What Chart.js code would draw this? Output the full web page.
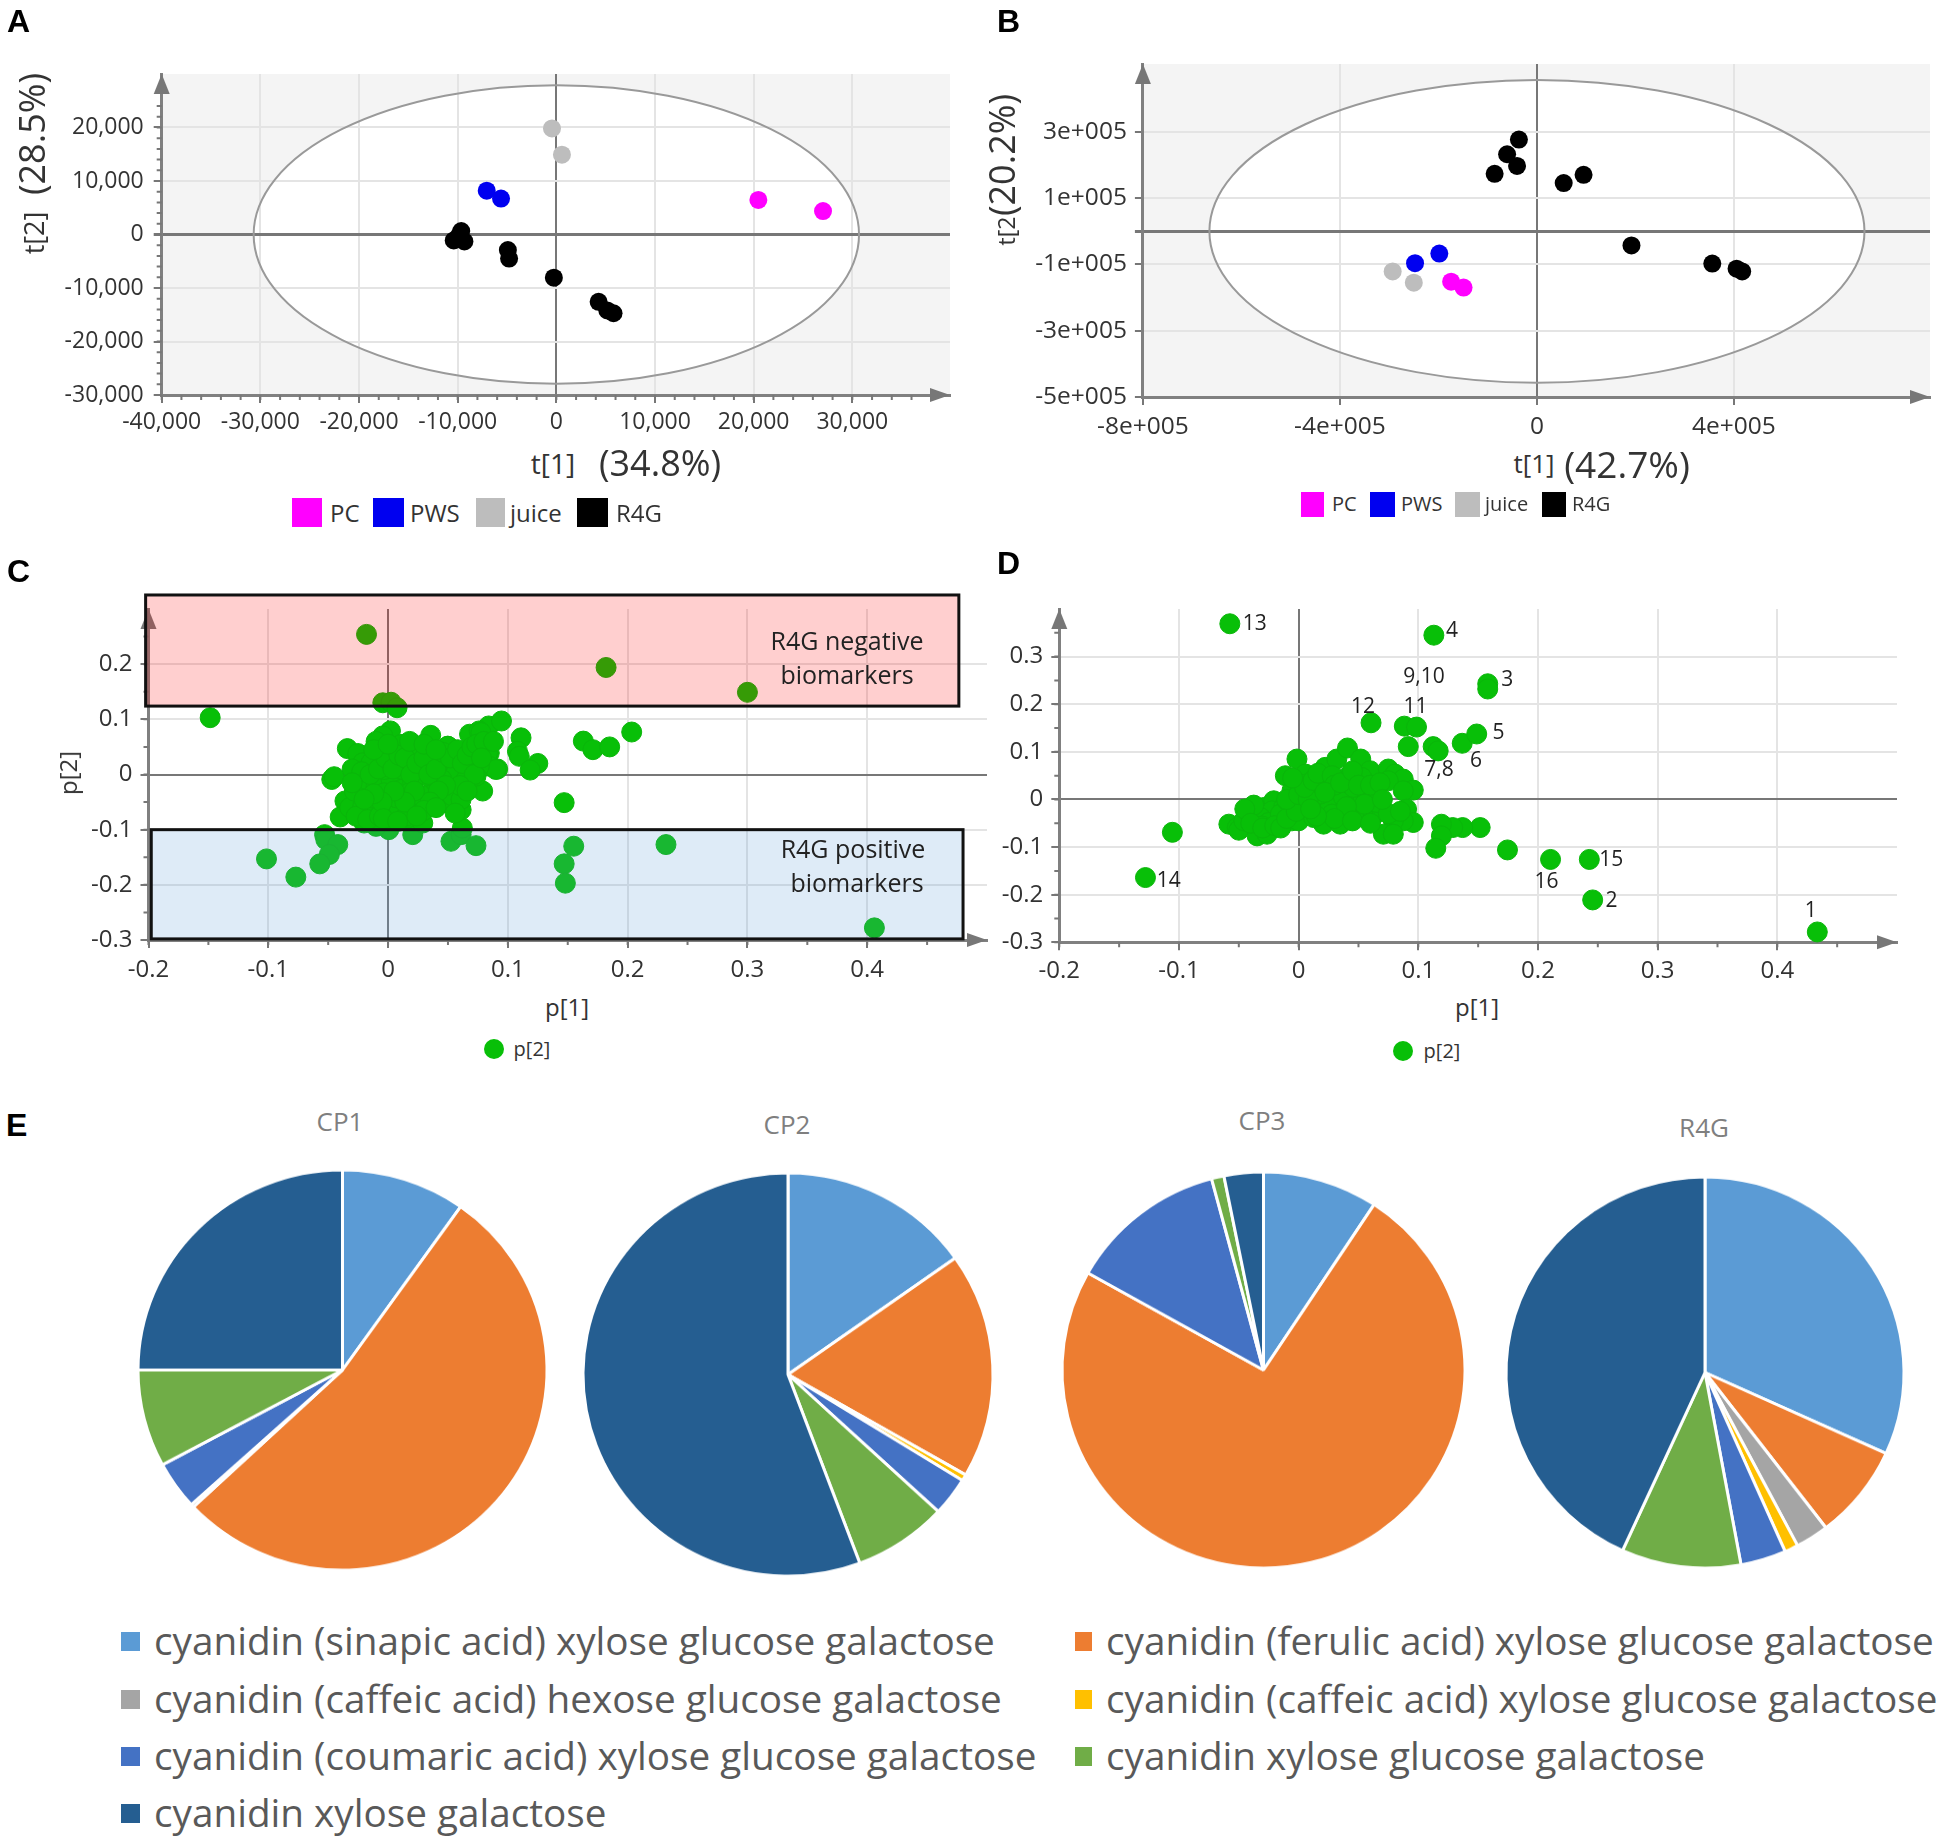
<!DOCTYPE html>
<html><head><meta charset="utf-8">
<script src="https://cdn.jsdelivr.net/npm/chart.js@4/dist/chart.umd.js"></script>
<style>
html,body{margin:0;padding:0;background:#fff;width:1950px;height:1843px;overflow:hidden}
#root{position:relative;width:1950px;height:1843px}
canvas{position:absolute}
.t{position:absolute;white-space:nowrap;font-family:"Open Sans",sans-serif;color:#333;line-height:1}
.b{position:absolute}
</style></head><body><div id="root"></div>
<script>
// ---------- panel A ----------
const aPC=[[20475,6455],[27030,4390]];
const aPWS=[[-7056,8198],[-5607,6713]];
const aJuice=[[-441,19817],[567,14911]];
const aR4G=[[-9640,645],[-9900,-300],[-10400,-1100],[-9320,-1290],[-4914,-2900],[-4788,-4500],[-252,-8070],[4284,-12590],[5166,-14200],[5796,-14720]];
const aXTicks=[-40000,-30000,-20000,-10000,0,10000,20000,30000];
const aYTicks=[-30000,-20000,-10000,0,10000,20000];
// ---------- panel B ----------
const bPC=[[-174200,-152000],[-149000,-169600]];
const bPWS=[[-198200,-67200],[-247500,-96200]];
const bJuice=[[-292900,-121000],[-250000,-155100]];
const bR4G=[[-36600,277100],[-60600,232650],[-40400,197500],[-85900,173700],[54300,145800],[94700,170600],[191900,-42400],[356000,-97200],[405300,-112700],[416700,-121000]];
const bXTicks=[-800000,-400000,0,400000];
const bXLabels=["-8e+005","-4e+005","0","4e+005"];
const bYTicks=[-500000,-300000,-100000,0,100000,300000];
const bYLabels=["-5e+005","-3e+005","-1e+005","","1e+005","3e+005"];
// ---------- panel C ----------
const cP2=[[-.018,.254],[-.1485,.103],[-.0044,.13],[.0025,.131],[.0075,.121],[.002,.079],[-.0044,.07],[-.01,.06],[.0356,.071],[-.034,.047],[-.047,-.009],[-.045,-.004],
[-.025,.036],[-.036,-.048],[-.04,-.077],[-.032,-.06],[-.053,-.109],[-.052,-.118],[-.042,-.127],[-.049,-.145],[-.057,-.162],[-.077,-.186],[-.1015,-.153],
[.0006,-.1],[-.01,-.094],[-.02,-.088],[.0206,-.109],[.029,-.088],[.016,-.079],[.0525,-.121],[.061,-.109],[.062,-.097],[.0734,-.129],[.061,-.064],[.0525,-.054],[.079,-.03],
[.068,.073],[.084,.088],[.076,.079],[.05,.051],[.0845,.039],[.0947,.097],[.0775,.076],[.111,.0665],[.108,.042],[.1095,.033],[.083,.039],[.0915,.01],[.08,.015],[.125,.02],[.1186,.008],
[.163,.0605],[.171,.045],[.185,.05],[.2034,.077],[.147,-.051],[.155,-.13],[.147,-.162],[.148,-.197],[.232,-.127],[.406,-.278],[.182,.194],[.3,.149],
[-.0253,.0381],[-.0211,.0212],[-.0142,.0212],[-.0253,-.0091],[-.0211,-.0242],[-.0281,-.0302],[-.0183,-.0091],[-.01,-.0212],[-.0044,-.0151],[.0025,-.0091],[.0067,.0272],[.0053,.0454],[.0108,.0544],
[.0206,.0393],[.0247,.0454],[.0178,.0212],[.015,.003],[.0108,-.0272],[.0039,-.0514],[.0095,-.0635],[-.0031,-.0333],[-.01,-.0575],[-.0211,-.0575],[-.0267,-.0756],[-.017,-.0817],[-.0072,-.0756],
[.015,-.0756],[.0234,-.0575],[.0289,-.0423],[.0359,-.0333],[.04,-.0151],[.0317,-.003],[.0373,.0151],[.0428,.0212],[.0498,.0514],[.0567,.0272],[.0623,.0393],[.0512,-.003],[.0567,.003],[.0692,.0212],[.0651,-.0091],
[.0539,-.0393],[.0609,-.0454],[.0845,.0151],[.09,.0091],[.0762,.0151],[.0734,-.003],[.0283,.0091],[.0121,.0091],[.0205,-.0151],[-.0031,.0091],[.0449,.0301],[.0449,-.0091],[.0069,-.0423],[.0178,-.0333],[-.0142,-.0423],
[-.03,.01],[-.022,.005],[-.015,0],[-.008,.01],[-.002,.03],[.004,.01],[.009,.035],[.014,.03],[.019,0],[.024,.02],[.03,.03],[.034,0],[.04,.01],[.046,.04],[.052,.03],[.058,.045],[.062,.02],[.066,.035],[.07,.05],[.074,.055],[.08,.06],[.088,.06],[.072,0],[.078,.03],[.06,-.02],[.066,-.03],[.048,-.02],[.042,-.03],[.035,-.05],[.03,-.065],[.022,-.03],[.014,-.05],[.005,-.03],[-.005,-.05],[-.012,-.035],[-.02,-.045],[-.03,-.015],[-.004,-.08],[.008,-.085],[.024,-.075],[.04,-.06],[.056,-.07],[-.012,.045],[0,.055],[.018,.06],[.03,.055],[.04,.045]];
const cXTicks=[-.2,-.1,0,.1,.2,.3,.4];
const cYTicks=[-.3,-.2,-.1,0,.1,.2];
const cNegBox=[-.2024,.4765,.124,.3254];
const cPosBox=[-.1977,.48,-.298,-.1];
// ---------- panel D ----------
const dP2=[[-.0575,.369],[.113,.345],[.158,.243],[.158,.232],[.0605,.161],[.0883,.154],[.0985,.152],[.0916,.111],[.1124,.111],[.1166,.102],[.1367,.118],[.1488,.1375],
[.1517,-.059],[.137,-.059],[.1287,-.059],[.1193,-.052],[.1193,-.0765],[.1146,-.1025],[.1745,-.106],[.2105,-.126],[.2429,-.126],[.2457,-.211],[.4334,-.2783],[-.128,-.164],[-.1055,-.069],
[-.0583,-.0519],[-.0513,-.0589],[-.05,-.0646],[-.0416,-.0309],[-.0458,-.0449],[-.0347,-.0765],[-.0264,-.073],[-.0291,-.0168],[-.0208,-.0028],[-.0222,-.0239],[-.0319,-.0379],[-.025,-.0484],[-.0125,-.0168],[-.0056,-.0098],
[-.0056,-.0449],[0,-.0449],[-.0111,.0498],[-.0014,.0849],[.0056,.0533],[.0014,.0323],[-.0056,.0182],[.0097,-.0239],[.0139,.0042],[.018,-.0168],[.0208,-.0519],[.0222,.0674],[.0236,.0393],
[.0319,.0849],[.0408,.1081],[.0519,.0849],[.0597,.0604],[.0527,.0463],[.0402,.0463],[.0319,.0182],[.0264,-.0098],[.0347,-.0519],[.0458,-.0309],[.0527,-.0309],[.0486,.0042],[.0624,.0112],[.0624,-.0344],[.0694,-.0204],[.0652,-.0063],
[.0749,.0639],[.0805,.0533],[.0874,.0428],[.0749,.0393],[.0958,.0196],[.0874,.0182],[.0902,-.0204],[.0958,-.0484],[.0874,-.0449],[.0791,-.0449],[.0708,-.073],[.0791,-.073],
[.018,.0112],[.0278,-.0309],[.0097,.0323],[.0125,-.0379],[.0375,.0042],[.0458,.0253],[.0569,.0182],[-.0153,-.0309],[-.0097,-.0028],[.0042,.0112],[-.0305,-.0559],[-.0375,-.0119],
[-.045,-.02],[-.04,-.05],[-.03,-.06],[-.02,-.055],[-.015,-.06],[-.01,-.04],[-.002,-.025],[-.01,0],[0,.01],[.008,0],[.005,.025],[-.005,.045],[.012,.04],[.016,.055],[.028,.05],[.03,.03],[.022,.015],[.035,.035],[.045,.06],[.05,.03],[.06,.03],[.068,.035],[.055,-.01],[.04,-.015],[.03,-.04],[.015,-.035],[.01,-.02],[.045,-.045],[.06,-.05],[.075,-.03],[.07,0],[.085,-.025]];
const dXTicks=[-.2,-.1,0,.1,.2,.3,.4];
const dYTicks=[-.3,-.2,-.1,0,.1,.2,.3];
const dNotes=["13","4","9,10","12","11","7,8","6","14","3","5","15","16","2","1"];
const dNoteX=[-.0366,.1282,.1047,.0537,.0977,.1173,.1482,-.1086,.1744,.1671,.2612,.2072,.2615,.428];
const dNoteY=[.369,.3528,.2567,.1935,.1935,.0625,.08,-.171,.2518,.1387,-.1274,-.174,-.2126,-.2335];
// ---------- panel E ----------
const pieCategories=["cyanidin (sinapic acid) xylose glucose galactose","cyanidin (ferulic acid) xylose glucose galactose","cyanidin (caffeic acid) hexose glucose galactose","cyanidin (caffeic acid) xylose glucose galactose","cyanidin (coumaric acid) xylose glucose galactose","cyanidin xylose glucose galactose","cyanidin xylose galactose"];
const pieColors=["#5b9bd5","#ed7d31","#a5a5a5","#ffc000","#4472c4","#70ad47","#255e91"];
const cp1=[9.8,53.2,.25,0,3.9,7.85,25];
const cp2=[15.2,18.1,0,.5,3.1,7.4,55.7];
const cp3=[9.25,73.9,0,0,12.7,1,3.15];
const r4g=[31.8,7.8,2.7,1.1,3.7,9.7,43.2];

const MAG='#ff00ff',BLU='#0000f0',GRY='#bdbdbd',BLK='#000',GRN='#08bf08';
Chart.defaults.font.family='"Open Sans",sans-serif';
Chart.defaults.color='#333';
const root=document.getElementById('root');

function text(s,x,y,o={}){
  const d=document.createElement('div');d.className='t';d.textContent=s;
  d.style.left=x+'px';d.style.top=y+'px';
  d.style.fontSize=(o.size||24)+'px';
  if(o.color)d.style.color=o.color;
  if(o.weight)d.style.fontWeight=o.weight;
  if(o.family)d.style.fontFamily=o.family;
  const ax=o.left?'0':'-50%';
  d.style.transform=`translate(${ax},-50%)`+(o.rot?` rotate(${o.rot}deg)`:'');
  root.appendChild(d);return d;
}
function box(x,y,w,h,c){const d=document.createElement('div');d.className='b';
  d.style.cssText+=`left:${x}px;top:${y}px;width:${w}px;height:${h}px;background:${c}`;root.appendChild(d);}

function arrows(c){
  const a=c.chartArea,x=c.ctx;x.save();x.fillStyle='#777';
  x.beginPath();x.moveTo(a.right,a.bottom);x.lineTo(a.right-20,a.bottom-7);x.lineTo(a.right-20,a.bottom+7);x.fill();
  x.beginPath();x.moveTo(a.left,a.top);x.lineTo(a.left-8,a.top+20);x.lineTo(a.left+8,a.top+20);x.fill();
  x.restore();
}
function minorTicks(c,xStep,yStep,len){
  const sx=c.scales.x,sy=c.scales.y,x=c.ctx;x.save();x.strokeStyle='#777';x.lineWidth=2;x.beginPath();
  if(xStep){const n=Math.round((sx.max-sx.min)/xStep);for(let i=0;i<=n;i++){const p=sx.getPixelForValue(sx.min+i*xStep);if(p<c.chartArea.right-22){x.moveTo(p,c.chartArea.bottom);x.lineTo(p,c.chartArea.bottom+len);}}}
  if(yStep){const n=Math.round((sy.max-sy.min)/yStep);for(let i=0;i<=n;i++){const p=sy.getPixelForValue(sy.min+i*yStep);if(p>c.chartArea.top+22){x.moveTo(c.chartArea.left,p);x.lineTo(c.chartArea.left-len,p);}}}
  x.stroke();x.restore();
}
function scatter(o){
  const cv=document.createElement('canvas');
  cv.width=o.box[2];cv.height=o.box[3];
  cv.style.left=o.box[0]+'px';cv.style.top=o.box[1]+'px';cv.style.width=o.box[2]+'px';cv.style.height=o.box[3]+'px';
  root.appendChild(cv);
  const [L,T,R,B]=o.plot;
  const grid=w=>({color:ctx=>ctx.tick&&Math.abs(ctx.tick.value)<1e-9?'#777':'#e4e4e4',lineWidth:ctx=>ctx.tick&&Math.abs(ctx.tick.value)<1e-9?w:2,tickColor:'#777',tickLength:8,drawTicks:true});
  const fmt=o.fmt;
  new Chart(cv,{type:'scatter',
    data:{datasets:o.sets.map(s=>({label:s.label,data:s.data.map(p=>({x:p[0],y:p[1]})),backgroundColor:s.color,borderColor:s.edge||s.color,borderWidth:s.edge?1:0,pointRadius:o.r,pointHoverRadius:o.r,clip:false}))},
    options:{responsive:false,animation:false,events:[],
      layout:{padding:{top:T-o.box[1],right:o.box[0]+o.box[2]-R,left:0,bottom:0}},
      plugins:{legend:{display:false},tooltip:{enabled:false}},
      scales:{
        x:{type:'linear',min:o.x[0],max:o.x[1],grid:grid(2),border:{color:'#808080',width:3},
          afterBuildTicks:s=>{s.ticks=o.xt.map(v=>({value:v}));},
          afterFit:s=>{s.height=o.box[1]+o.box[3]-B;s.paddingLeft=0;s.paddingRight=0;},
          ticks:{font:{size:o.font},color:'#333',padding:o.xpad,maxRotation:0,autoSkip:false,callback:v=>fmt.x(v)}},
        y:{type:'linear',min:o.y[0],max:o.y[1],grid:grid(o.zeroH||2),border:{color:'#808080',width:3},
          afterBuildTicks:s=>{s.ticks=o.yt.map(v=>({value:v}));},
          afterFit:s=>{s.width=L-o.box[0];s.paddingTop=0;s.paddingBottom=0;},
          ticks:{font:{size:o.font},color:'#333',padding:o.ypad,autoSkip:false,callback:v=>fmt.y(v)}}
      }},
    plugins:[{id:'deco',
      beforeDraw(c){
        const a=c.chartArea,x=c.ctx;
        if(o.bg){x.fillStyle=o.bg;x.fillRect(a.left,a.top,a.width,a.height);}
        if(o.ellipse){const cx=c.scales.x.getPixelForValue(0),cy=c.scales.y.getPixelForValue(0);
          const rx=Math.abs(c.scales.x.getPixelForValue(o.ellipse[0])-cx),ry=Math.abs(c.scales.y.getPixelForValue(o.ellipse[1])-cy);
          x.fillStyle='#fff';x.beginPath();x.ellipse(cx,cy,rx,ry,0,0,Math.PI*2);x.fill();}
      },
      beforeDatasetsDraw(c){
        const x=c.ctx;
        if(o.ellipse){const cx=c.scales.x.getPixelForValue(0),cy=c.scales.y.getPixelForValue(0);
          const rx=Math.abs(c.scales.x.getPixelForValue(o.ellipse[0])-cx),ry=Math.abs(c.scales.y.getPixelForValue(o.ellipse[1])-cy);
          x.strokeStyle='#999';x.lineWidth=2;x.beginPath();x.ellipse(cx,cy,rx,ry,0,0,Math.PI*2);x.stroke();}
        minorTicks(c,o.minor&&o.minor[0],o.minor&&o.minor[1],5);
        arrows(c);
      },
      afterDatasetsDraw(c){
        const x=c.ctx,sx=c.scales.x,sy=c.scales.y;
        (o.bands||[]).forEach(b=>{
          const l=sx.getPixelForValue(b.r[0]),r=sx.getPixelForValue(b.r[1]),t=sy.getPixelForValue(b.r[3]),bt=sy.getPixelForValue(b.r[2]);
          x.fillStyle=b.fill;x.fillRect(l,t,r-l,bt-t);
          x.strokeStyle='#111';x.lineWidth=3;x.strokeRect(l,t,r-l,bt-t);
        });
        if(o.notes){x.save();x.fillStyle='#222';x.font='21px "Open Sans",sans-serif';x.textAlign='center';x.textBaseline='middle';
          o.notes.t.forEach((s,i)=>x.fillText(s,sx.getPixelForValue(o.notes.x[i]),sy.getPixelForValue(o.notes.y[i])));x.restore();}
      }}]
  });
}
const comma=v=>Number(v).toLocaleString('en-US');
const dec=v=>Math.abs(v)<1e-9?'0':String(Math.round(v*10)/10);

// A
scatter({box:[0,24,975,416],plot:[161.7,74,950,395],x:[-40000,39900],y:[-30000,30000],xt:aXTicks,yt:aYTicks,r:9,font:23,xpad:6,ypad:10,zeroH:3,bg:'#f4f4f4',ellipse:[30680,27900],minor:[2000,2000],
  fmt:{x:comma,y:comma},
  sets:[{label:'R4G',data:aR4G,color:BLK},{label:'PC',data:aPC,color:MAG},{label:'PWS',data:aPWS,color:BLU},{label:'juice',data:aJuice,color:GRY}]});
// B
scatter({box:[975,14,975,426],plot:[1142.9,64,1930,397],x:[-800000,798000],y:[-500000,505000],xt:bXTicks,yt:bYTicks,r:9,font:24.5,xpad:7,ypad:8,zeroH:3,bg:'#f4f4f4',ellipse:[665000,457000],
  fmt:{x:v=>bXLabels[bXTicks.indexOf(v)],y:v=>bYLabels[bYTicks.indexOf(v)]},
  sets:[{label:'R4G',data:bR4G,color:BLK},{label:'PC',data:bPC,color:MAG},{label:'PWS',data:bPWS,color:BLU},{label:'juice',data:bJuice,color:GRY}]});
// C
scatter({box:[0,559,1000,431],plot:[148.5,609,987,940],x:[-.2,.5],y:[-.3,.3],xt:cXTicks,yt:cYTicks,r:10,font:24,xpad:8,ypad:8,minor:[.05,.05],
  fmt:{x:dec,y:dec},
  bands:[{r:cNegBox,fill:'rgba(255,0,0,.19)'},{r:cPosBox,fill:'rgba(91,155,213,.2)'}],
  sets:[{label:'p[2]',data:cP2,color:GRN,edge:'#0ab60a'}]});
// D
scatter({box:[985,559,965,431],plot:[1059.3,609,1897,942.3],x:[-.2,.5],y:[-.3,.4],xt:dXTicks,yt:dYTicks,r:10,font:24,xpad:6,ypad:8,minor:[.05,.05],
  fmt:{x:dec,y:dec},notes:{t:dNotes,x:dNoteX,y:dNoteY},
  sets:[{label:'p[2]',data:dP2,color:GRN,edge:'#0ab60a'}]});

// pies: slightly flattened like the source figure
function pie(vals,cx,cy,rx,ry,title,tx,ty){
  const s=2*rx+12,cv=document.createElement('canvas');cv.width=s;cv.height=s;
  const h=s*ry/rx;
  cv.style.left=(cx-s/2)+'px';cv.style.top=(cy-h/2)+'px';cv.style.width=s+'px';cv.style.height=h+'px';root.appendChild(cv);
  new Chart(cv,{type:'pie',data:{labels:pieCategories,datasets:[{data:vals,backgroundColor:pieColors,borderColor:'#fff',borderWidth:3,radius:rx}]},
    options:{responsive:false,animation:false,events:[],plugins:{legend:{display:false},tooltip:{enabled:false}},layout:{padding:0}}});
  text(title,tx,ty,{size:26,color:'#7f7f7f'});
}
pie(cp1,342,1370,204.5,200,'CP1',340,1121);
pie(cp2,788,1374.5,205,201.5,'CP2',787,1124);
pie(cp3,1263.5,1370,201.5,198.5,'CP3',1262,1120);
pie(r4g,1704.5,1372.5,199,195.5,'R4G',1704,1127);

// panel letters
[['A',7,21],['B',997,21],['C',7,571],['D',997,563],['E',6,1125]].forEach(l=>text(l[0],l[1],l[2],{left:1,size:32,weight:700,color:'#000',family:'"Liberation Sans",sans-serif'}));

// axis titles
text('t[1]',553,463,{size:28});text('(34.8%)',660,463,{size:36});
text('t[2]',33,233,{size:27,rot:-90});text('(28.5%)',32,134,{size:36,rot:-90});
text('t[1]',1534,463,{size:26});text('(42.7%)',1627,463,{size:37});
text('t[2',1006,231,{size:23,rot:-90});text('(20.2%)',1002,155,{size:36,rot:-90});
text('p[1]',567,1007,{size:24});text('p[2]',68,773,{size:24,rot:-90});
text('p[1]',1477,1007,{size:24});
// C band text
text('R4G negative',847,640,{size:25,color:'#222'});text('biomarkers',847,674,{size:25,color:'#222'});
text('R4G positive',853,848,{size:25,color:'#222'});text('biomarkers',857,882,{size:25,color:'#222'});

// group legends
[[292,30,'PC',330],[373,31,'PWS',410],[476,29,'juice',510],[577,31,'R4G',616]].forEach((k,i)=>{box(k[0],498,k[1],29,[MAG,BLU,GRY,BLK][i]);text(k[2],k[3],513,{left:1,size:24});});
[[1301,23,'PC',1332],[1370,25,'PWS',1401],[1455,25,'juice',1485],[1542,24,'R4G',1572]].forEach((k,i)=>{box(k[0],492,k[1],25,[MAG,BLU,GRY,BLK][i]);text(k[2],k[3],504,{left:1,size:20});});
// p[2] legends
function dot(cx,cy){const d=document.createElement('div');d.className='b';d.style.cssText+=`left:${cx-10}px;top:${cy-10}px;width:20px;height:20px;border-radius:50%;background:${GRN}`;root.appendChild(d);}
dot(494,1049);text('p[2]',532,1049,{size:20,weight:500});
dot(1403,1051);text('p[2]',1442,1051,{size:20,weight:500});

// pie legend
const legendPos=[[121,154,1640,0],[1074.5,1106,1640,1],[121,154,1698,2],[1074.5,1106,1698,3],[121,154,1755,4],[1074.5,1106,1755,5],[121,154,1812,6]];
legendPos.forEach(p=>{box(p[0],p[2]-8.5,p[0]<500?19:17,19,pieColors[p[3]]);text(pieCategories[p[3]],p[1],p[2],{left:1,size:38.7,color:'#595959'});});
</script></body></html>
